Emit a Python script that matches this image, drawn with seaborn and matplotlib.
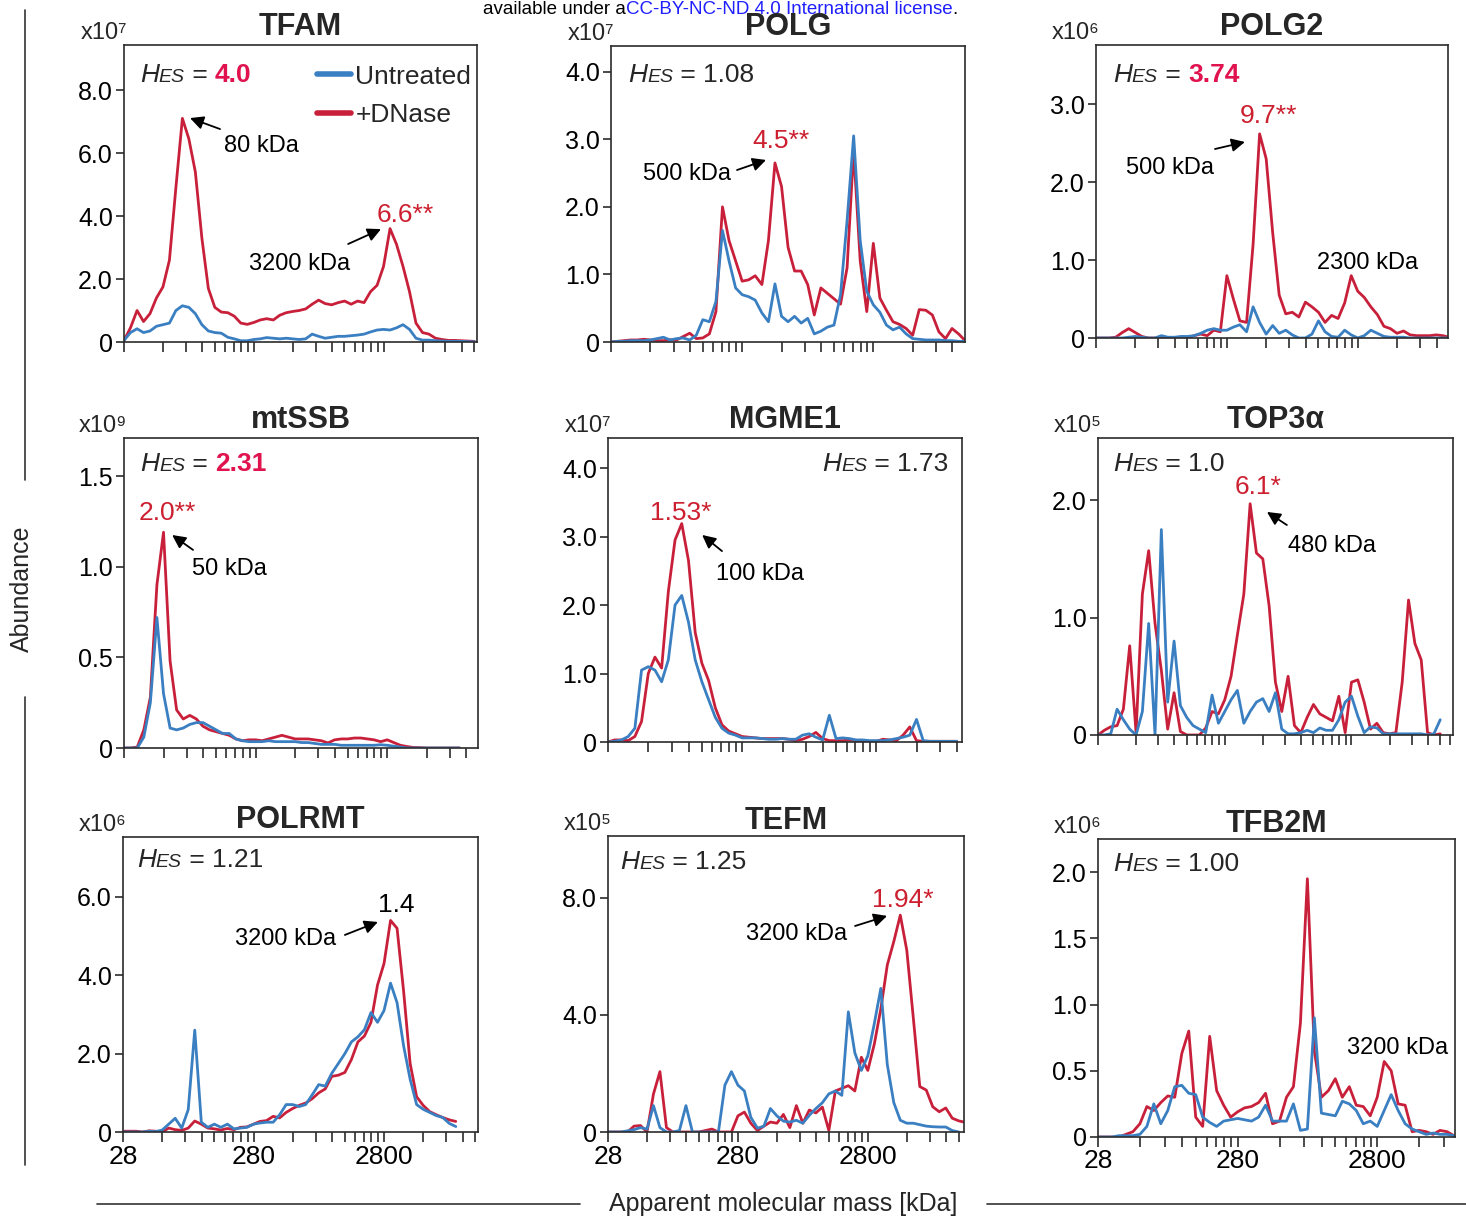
import numpy as np
import pandas as pd
import matplotlib
matplotlib.use("Agg")
import matplotlib.pyplot as plt
import seaborn as sns
from matplotlib.lines import Line2D
from matplotlib.ticker import FixedLocator, NullFormatter

nan = np.nan

# apparent molecular mass of the fractions [kDa]
mass_kda = [
    28, 31.4, 35.3, 39.6, 44.4, 49.8, 55.9, 62.7, 70.3, 78.9,
    88.5, 99.3, 111.5, 125.1, 140.3, 157.4, 176.7, 198.2, 222.4, 249.6,
    280, 314, 352, 396, 444, 498, 559, 627, 703, 789,
    885, 993, 1115, 1251, 1403, 1575, 1767, 1982, 2224, 2496,
    2800, 3142, 3525, 3955, 4438, 4979, 5587, 6269, 7034, 7892,
    8854, 9935, 11147, 12507, 14033, 15745,
]

# abundances, in units of each panel's x10^n factor
tfam_dnase = [
    0.05, 0.45, 1.0, 0.65, 0.9, 1.4, 1.75, 2.6, 4.9, 7.1,
    6.45, 5.4, 3.3, 1.7, 1.1, 0.95, 0.93, 0.82, 0.6, 0.56,
    0.62, 0.7, 0.74, 0.7, 0.85, 0.93, 0.97, 1.0, 1.05, 1.2,
    1.33, 1.22, 1.18, 1.25, 1.3, 1.2, 1.3, 1.25, 1.6, 1.8,
    2.4, 3.6, 3.1, 2.4, 1.6, 0.6, 0.3, 0.25, 0.12, 0.08,
    0.05, 0.05, 0.04, 0.03, 0.02, nan,
]
tfam_untreated = [
    0.05, 0.3, 0.42, 0.3, 0.35, 0.5, 0.55, 0.6, 1.0, 1.15,
    1.1, 0.9, 0.55, 0.35, 0.3, 0.28, 0.15, 0.1, 0.04, 0.04,
    0.08, 0.1, 0.14, 0.12, 0.1, 0.12, 0.1, 0.08, 0.1, 0.25,
    0.18, 0.12, 0.15, 0.18, 0.18, 0.2, 0.22, 0.25, 0.32, 0.38,
    0.4, 0.38, 0.45, 0.55, 0.4, 0.12, 0.06, 0.06, 0.04, 0.03,
    0.02, 0.02, 0.02, 0.01, 0.01, nan,
]

polg_dnase = [
    0.0, 0.01, 0.02, 0.03, 0.03, 0.04, 0.03, 0.02, 0.02, 0.03,
    0.03, 0.08, 0.13, 0.05, 0.06, 0.12, 0.45, 2.0, 1.5, 1.2,
    0.9, 0.92, 0.98, 0.85, 1.5, 2.65, 2.3, 1.4, 1.05, 1.05,
    0.85, 0.4, 0.8, 0.72, 0.64, 0.56, 1.1, 2.84, 1.2, 0.45,
    1.46, 0.65, 0.47, 0.3, 0.26, 0.2, 0.1, 0.48, 0.47, 0.4,
    0.15, 0.05, 0.2, 0.12, 0.02, nan,
]
polg_untreated = [
    0.0, 0.01, 0.01, 0.02, 0.02, 0.02, 0.03, 0.05, 0.07, 0.03,
    0.05, 0.06, 0.03, 0.1, 0.33, 0.3, 0.6, 1.65, 1.2, 0.8,
    0.7, 0.67, 0.62, 0.43, 0.3, 0.86, 0.38, 0.3, 0.38, 0.28,
    0.35, 0.12, 0.16, 0.22, 0.25, 0.7, 1.8, 3.05, 1.5, 0.75,
    0.55, 0.44, 0.25, 0.18, 0.22, 0.12, 0.05, 0.04, 0.03, 0.03,
    0.03, 0.02, 0.02, 0.01, 0.01, nan,
]

polg2_dnase = [
    0.0, 0.0, 0.0, 0.01, 0.07, 0.12, 0.07, 0.02, 0.0, 0.0,
    0.0, 0.0, 0.0, 0.0, 0.0, 0.03, 0.05, 0.03, 0.1, 0.08,
    0.8, 0.5, 0.22, 0.2, 1.2, 2.62, 2.3, 1.35, 0.55, 0.31,
    0.33, 0.27, 0.46, 0.4, 0.33, 0.2, 0.29, 0.25, 0.45, 0.8,
    0.6, 0.52, 0.4, 0.3, 0.15, 0.12, 0.06, 0.09, 0.04, 0.03,
    0.03, 0.03, 0.04, 0.03, 0.01, nan,
]
polg2_untreated = [
    0.0, 0.0, 0.0, 0.0, 0.0, 0.01, 0.02, 0.01, 0.0, 0.0,
    0.03, 0.01, 0.01, 0.02, 0.02, 0.03, 0.06, 0.1, 0.12, 0.1,
    0.1, 0.14, 0.17, 0.08, 0.4, 0.2, 0.05, 0.16, 0.06, 0.1,
    0.04, 0.0, 0.0, 0.05, 0.22, 0.08, 0.02, 0.01, 0.1, 0.04,
    0.0, 0.03, 0.1, 0.06, 0.02, 0.01, 0.01, 0.01, 0.0, 0.0,
    0.0, 0.0, 0.0, 0.0, 0.0, nan,
]

mtssb_dnase = [
    0.0, 0.0, 0.005, 0.1, 0.28, 0.9, 1.19, 0.48, 0.21, 0.16,
    0.18, 0.16, 0.12, 0.1, 0.09, 0.08, 0.07, 0.05, 0.04, 0.045,
    0.045, 0.04, 0.05, 0.06, 0.07, 0.06, 0.05, 0.05, 0.05, 0.045,
    0.04, 0.028, 0.045, 0.05, 0.05, 0.055, 0.055, 0.05, 0.045, 0.035,
    0.045, 0.03, 0.015, 0.008, 0.003, 0.002, 0.0, 0.0, 0.0, 0.0,
    0.0, 0.0, nan, nan, nan, nan,
]
mtssb_untreated = [
    0.0, 0.0, 0.0, 0.06, 0.25, 0.72, 0.3, 0.11, 0.1, 0.11,
    0.13, 0.14, 0.14, 0.12, 0.1, 0.08, 0.08, 0.05, 0.04, 0.035,
    0.035, 0.035, 0.04, 0.035, 0.035, 0.035, 0.035, 0.03, 0.03, 0.025,
    0.02, 0.02, 0.02, 0.015, 0.015, 0.015, 0.015, 0.015, 0.015, 0.018,
    0.015, 0.01, 0.005, 0.0, 0.0, 0.0, 0.0, 0.0, 0.0, 0.0,
    0.0, 0.0, nan, nan, nan, nan,
]

mgme1_dnase = [
    0.0, 0.03, 0.03, 0.02, 0.08, 0.3, 1.0, 1.24, 1.08, 2.2,
    2.95, 3.19, 2.65, 1.6, 1.15, 0.9, 0.5, 0.25, 0.16, 0.12,
    0.08, 0.07, 0.06, 0.05, 0.05, 0.05, 0.05, 0.04, 0.02, 0.04,
    0.08, 0.14, 0.05, 0.02, 0.02, 0.02, 0.03, 0.02, 0.02, 0.01,
    0.01, 0.04, 0.03, 0.02, 0.1, 0.22, 0.02, 0.01, 0.01, 0.01,
    0.01, 0.01, 0.01, nan, nan, nan,
]
mgme1_untreated = [
    0.0, 0.01, 0.03, 0.08, 0.2, 1.05, 1.1, 1.05, 0.88, 1.2,
    2.0, 2.14, 1.75, 1.2, 0.88, 0.62, 0.36, 0.2, 0.13, 0.1,
    0.06, 0.06, 0.06, 0.05, 0.04, 0.04, 0.05, 0.04, 0.04, 0.1,
    0.12, 0.07, 0.03, 0.39, 0.05, 0.06, 0.05, 0.03, 0.03, 0.02,
    0.02, 0.02, 0.03, 0.05, 0.07, 0.1, 0.33, 0.02, 0.01, 0.01,
    0.01, 0.01, 0.01, nan, nan, nan,
]

top3a_dnase = [
    0.0, 0.04, 0.07, 0.08, 0.22, 0.76, 0.02, 1.2, 1.57, 0.95,
    0.55, 0.05, 0.36, 0.03, 0.0, 0.0, 0.0, 0.06, 0.2, 0.18,
    0.3, 0.5, 0.85, 1.2, 1.97, 1.55, 1.5, 1.1, 0.45, 0.2,
    0.5, 0.08, 0.02, 0.15, 0.26, 0.18, 0.15, 0.12, 0.33, 0.02,
    0.45, 0.47, 0.28, 0.05, 0.1, 0.02, 0.01, 0.02, 0.45, 1.15,
    0.78, 0.64, 0.02, 0.0, 0.01, nan,
]
top3a_untreated = [
    0.0, 0.0, 0.01, 0.22, 0.13, 0.05, 0.0, 0.2, 0.95, 0.0,
    1.75, 0.28, 0.8, 0.25, 0.15, 0.08, 0.05, 0.02, 0.34, 0.1,
    0.2, 0.3, 0.38, 0.1, 0.2, 0.28, 0.31, 0.2, 0.36, 0.05,
    0.01, 0.01, 0.02, 0.04, 0.02, 0.06, 0.04, 0.04, 0.13, 0.28,
    0.33, 0.16, 0.02, 0.07, 0.06, 0.01, 0.01, 0.01, 0.01, 0.01,
    0.01, 0.01, 0.0, 0.01, 0.13, nan,
]

polrmt_dnase = [
    0.02, 0.02, 0.02, 0.0, 0.03, 0.02, 0.0, 0.1, 0.06, 0.04,
    0.1, 0.28, 0.2, 0.1, 0.08, 0.05, 0.09, 0.06, 0.12, 0.13,
    0.2, 0.27, 0.29, 0.4, 0.36, 0.5, 0.6, 0.68, 0.74, 0.85,
    1.0, 1.1, 1.42, 1.45, 1.52, 1.85, 2.3, 2.45, 2.8, 3.75,
    4.3, 5.4, 5.2, 3.6, 1.75, 0.9, 0.68, 0.52, 0.44, 0.37,
    0.31, 0.27, nan, nan, nan, nan,
]
polrmt_untreated = [
    0.0, 0.0, 0.0, 0.0, 0.02, 0.01, 0.05, 0.2, 0.35, 0.1,
    0.57, 2.6, 0.25, 0.12, 0.2, 0.12, 0.2, 0.08, 0.1, 0.12,
    0.2, 0.23, 0.25, 0.25, 0.44, 0.7, 0.7, 0.65, 0.7, 0.95,
    1.21, 1.17, 1.5, 1.75, 2.0, 2.3, 2.43, 2.61, 3.05, 2.8,
    3.1, 3.8, 3.3, 2.2, 1.35, 0.7, 0.58, 0.5, 0.42, 0.37,
    0.22, 0.14, nan, nan, nan, nan,
]

tefm_dnase = [
    0.0, 0.0, 0.0, 0.0, 0.2, 0.22, 0.0, 1.3, 2.06, 0.15,
    0.0, 0.0, 0.0, 0.0, 0.0, 0.05, 0.1, 0.0, 0.0, 0.0,
    0.55, 0.68, 0.3, 0.05, 0.2, 0.34, 0.3, 0.6, 0.15, 0.9,
    0.3, 0.75, 0.65, 0.85, 0.05, 1.4, 1.49, 1.58, 1.4, 2.55,
    2.1, 3.0, 4.2, 5.7, 6.5, 7.4, 6.2, 3.9, 1.55, 1.43,
    0.86, 0.69, 0.82, 0.47, 0.38, 0.33,
]
tefm_untreated = [
    0.0, 0.0, 0.0, 0.04, 0.08, 0.15, 0.1, 0.9, 0.15, 0.0,
    0.0, 0.05, 0.9, 0.0, 0.0, 0.0, 0.0, 0.0, 1.6, 2.06,
    1.6, 1.4, 0.5, 0.13, 0.2, 0.8, 0.55, 0.37, 0.34, 0.4,
    0.3, 0.57, 0.8, 1.0, 1.3, 1.4, 1.25, 4.1, 2.7, 2.1,
    2.6, 3.7, 4.9, 2.3, 1.0, 0.4, 0.3, 0.3, 0.25, 0.2,
    0.18, 0.17, 0.17, 0.05, 0.0, nan,
]

tfb2m_dnase = [
    0.0, 0.0, 0.0, 0.0, 0.02, 0.04, 0.1, 0.23, 0.2, 0.26,
    0.31, 0.3, 0.63, 0.8, 0.15, 0.08, 0.76, 0.35, 0.24, 0.15,
    0.19, 0.22, 0.23, 0.26, 0.33, 0.1, 0.12, 0.3, 0.38, 0.86,
    1.95, 0.65, 0.3, 0.35, 0.44, 0.3, 0.38, 0.24, 0.23, 0.16,
    0.3, 0.57, 0.5, 0.25, 0.24, 0.04, 0.05, 0.04, 0.02, 0.05,
    0.04, 0.01, nan, nan, nan, nan,
]
tfb2m_untreated = [
    0.0, 0.0, 0.0, 0.01, 0.01, 0.01, 0.02, 0.08, 0.25, 0.1,
    0.2, 0.38, 0.39, 0.33, 0.32, 0.15, 0.11, 0.08, 0.12, 0.13,
    0.14, 0.13, 0.12, 0.15, 0.24, 0.12, 0.12, 0.12, 0.25, 0.05,
    0.06, 0.9, 0.18, 0.17, 0.16, 0.27, 0.25, 0.2, 0.1, 0.12,
    0.08, 0.2, 0.32, 0.2, 0.1, 0.06, 0.04, 0.02, 0.03, 0.02,
    0.02, 0.01, nan, nan, nan, nan,
]

RED = "#c8203a"
BLUE = "#3a7fc1"
HES_RED = "#e0134f"
NOTE_RED = "#cc1f2f"

# rect = (left, top, right, bottom) in pixels; notes/arrows in axes fraction
panels = [
    dict(name="TFAM", scale="x10⁷", dnase=tfam_dnase, untreated=tfam_untreated,
         yticks=[0, 2, 4, 6, 8], ylabels=["0", "2.0", "4.0", "6.0", "8.0"],
         ymax=9.43, xmax=14700, rect=(124, 45, 477, 342), row=0, tpad=7,
         hes=("4.0", True), hes_pos=(0.045, 0.875),
         notes=[(0.283, 0.64, "80 kDa", "black", 17),
                (0.717, 0.404, "6.6**", NOTE_RED, 19),
                (0.354, 0.242, "3200 kDa", "black", 17)],
         arrows=[((0.272, 0.717), (0.187, 0.754)), ((0.635, 0.33), (0.728, 0.38))]),
    dict(name="POLG", scale="x10⁷", dnase=polg_dnase, untreated=polg_untreated,
         yticks=[0, 1, 2, 3, 4], ylabels=["0", "1.0", "2.0", "3.0", "4.0"],
         ymax=4.38, xmax=14000, rect=(611, 46, 965, 342), row=0, tpad=8,
         hes=("1.08", False), hes_pos=(0.048, 0.878),
         notes=[(0.398, 0.655, "4.5**", NOTE_RED, 19),
                (0.09, 0.547, "500 kDa", "black", 17)],
         arrows=[((0.356, 0.581), (0.438, 0.615))]),
    dict(name="POLG2", scale="x10⁶", dnase=polg2_dnase, untreated=polg2_untreated,
         yticks=[0, 1, 2, 3], ylabels=["0", "1.0", "2.0", "3.0"],
         ymax=3.76, xmax=13700, rect=(1096, 45, 1448, 338), row=0, tpad=7,
         hes=("3.74", True), hes_pos=(0.048, 0.874),
         notes=[(0.409, 0.734, "9.7**", NOTE_RED, 19),
                (0.085, 0.56, "500 kDa", "black", 17),
                (0.628, 0.235, "2300 kDa", "black", 17)],
         arrows=[((0.338, 0.645), (0.423, 0.669))]),
    dict(name="mtSSB", scale="x10⁹", dnase=mtssb_dnase, untreated=mtssb_untreated,
         yticks=[0, 0.5, 1.0, 1.5], ylabels=["0", "0.5", "1.0", "1.5"],
         ymax=1.71, xmax=13700, rect=(124, 438, 478, 748), row=1, tpad=7,
         hes=("2.31", True), hes_pos=(0.045, 0.894),
         notes=[(0.04, 0.735, "2.0**", NOTE_RED, 19),
                (0.192, 0.558, "50 kDa", "black", 17)],
         arrows=[((0.195, 0.639), (0.136, 0.687))]),
    dict(name="MGME1", scale="x10⁷", dnase=mgme1_dnase, untreated=mgme1_untreated,
         yticks=[0, 1, 2, 3, 4], ylabels=["0", "1.0", "2.0", "3.0", "4.0"],
         ymax=4.44, xmax=12200, rect=(608, 438, 962, 742), row=1, tpad=7,
         hes=("1.73", False), hes_pos=(0.605, 0.891),
         notes=[(0.119, 0.73, "1.53*", NOTE_RED, 19),
                (0.305, 0.533, "100 kDa", "black", 17)],
         arrows=[((0.322, 0.628), (0.266, 0.681))]),
    dict(name="TOP3α", scale="x10⁵", dnase=top3a_dnase, untreated=top3a_untreated,
         yticks=[0, 1, 2], ylabels=["0", "1.0", "2.0"],
         ymax=2.53, xmax=17700, rect=(1098, 438, 1453, 735), row=1, tpad=7,
         hes=("1.0", False), hes_pos=(0.042, 0.889),
         notes=[(0.386, 0.811, "6.1*", NOTE_RED, 19),
                (0.535, 0.616, "480 kDa", "black", 17)],
         arrows=[((0.532, 0.707), (0.476, 0.751))]),
    dict(name="POLRMT", scale="x10⁶", dnase=polrmt_dnase, untreated=polrmt_untreated,
         yticks=[0, 2, 4, 6], ylabels=["0", "2.0", "4.0", "6.0"],
         ymax=7.53, xmax=14700, rect=(123, 837, 478, 1132), row=2, tpad=6.5,
         hes=("1.21", False), hes_pos=(0.039, 0.898),
         notes=[(0.718, 0.746, "1.4", "black", 19),
                (0.315, 0.634, "3200 kDa", "black", 17)],
         arrows=[((0.625, 0.668), (0.718, 0.712))]),
    dict(name="TEFM", scale="x10⁵", dnase=tefm_dnase, untreated=tefm_untreated,
         yticks=[0, 4, 8], ylabels=["0", "4.0", "8.0"],
         ymax=10.1, xmax=15400, rect=(608, 836, 964, 1132), row=2, tpad=4.5,
         hes=("1.25", False), hes_pos=(0.034, 0.889),
         notes=[(0.742, 0.76, "1.94*", NOTE_RED, 19),
                (0.388, 0.649, "3200 kDa", "black", 17)],
         arrows=[((0.694, 0.696), (0.784, 0.73))]),
    dict(name="TFB2M", scale="x10⁶", dnase=tfb2m_dnase, untreated=tfb2m_untreated,
         yticks=[0, 0.5, 1.0, 1.5, 2.0], ylabels=["0", "0.5", "1.0", "1.5", "2.0"],
         ymax=2.25, xmax=10100, rect=(1098, 839, 1455, 1137), row=2, tpad=3,
         hes=("1.00", False), hes_pos=(0.042, 0.893),
         notes=[(0.697, 0.279, "3200 kDa", "black", 17)],
         arrows=[]),
]

sns.set_theme(style="ticks", rc={
    "axes.edgecolor": "#2b2b2b", "axes.linewidth": 1.2,
    "xtick.color": "#2b2b2b", "ytick.color": "#2b2b2b",
    "xtick.labelcolor": "black", "ytick.labelcolor": "black",
})
plt.rcParams["font.family"] = ["Liberation Sans", "DejaVu Sans"]

FIG_W, FIG_H = 1466, 1219
fig = plt.figure(figsize=(FIG_W / 100, FIG_H / 100), dpi=100)

# background axes in pixel coordinates for the shared labels
bg = fig.add_axes([0, 0, 1, 1])
bg.set_xlim(0, FIG_W)
bg.set_ylim(FIG_H, 0)
bg.axis("off")


def chain_text(ax, x, y, pieces, coords):
    prev = None
    for s, kw in pieces:
        if prev is None:
            prev = ax.annotate(s, xy=(x, y), xycoords=coords, ha="left", va="baseline", **kw)
        else:
            prev = ax.annotate(s, xy=(1, y), xycoords=(prev, coords), ha="left", va="baseline", **kw)


palette = {"+DNase": RED, "Untreated": BLUE}
n = len(mass_kda)

for p in panels:
    l, t, r, b = p["rect"]
    ax = fig.add_axes([l / FIG_W, 1 - b / FIG_H, (r - l) / FIG_W, (b - t) / FIG_H])
    df = pd.DataFrame({
        "mass": mass_kda + mass_kda,
        "abundance": p["dnase"] + p["untreated"],
        "condition": ["+DNase"] * n + ["Untreated"] * n,
    }).dropna()
    sns.lineplot(data=df, x="mass", y="abundance", hue="condition",
                 hue_order=["+DNase", "Untreated"], palette=palette,
                 estimator=None, sort=False, linewidth=2.0, legend=False, ax=ax)
    ax.set_xscale("log")
    ax.set_xlim(28, p["xmax"])
    ax.set_ylim(0, p["ymax"])
    ax.set(xlabel="", ylabel="")

    major = [28, 280, 2800]
    minor = [base * m for base in major for m in range(2, 10) if base * m < p["xmax"]]
    ax.xaxis.set_major_locator(FixedLocator(major))
    ax.xaxis.set_minor_locator(FixedLocator(minor))
    ax.xaxis.set_minor_formatter(NullFormatter())
    if p["row"] == 2:
        ax.set_xticklabels(["28", "280", "2800"])
    else:
        ax.set_xticklabels([])
    ax.yaxis.set_major_locator(FixedLocator(p["yticks"]))
    ax.set_yticklabels(p["ylabels"])
    ax.tick_params(axis="x", which="both", direction="out", length=7, width=1.2,
                   labelsize=19, pad=2)
    ax.tick_params(axis="y", direction="out", length=6, width=1.2, labelsize=18, pad=2)

    ax.set_title(p["name"], fontsize=22, fontweight="bold", pad=p["tpad"])
    ax.annotate(p["scale"], xy=(0, 1), xycoords="axes fraction", xytext=(2.5, 4.5),
                textcoords="offset points", ha="right", va="baseline", fontsize=17)

    val, bold = p["hes"]
    val_kw = dict(fontsize=19, fontweight="bold", color=HES_RED) if bold else dict(fontsize=19)
    chain_text(ax, p["hes_pos"][0], p["hes_pos"][1],
               [("H", dict(fontsize=19, style="italic")),
                ("ES", dict(fontsize=14, style="italic")),
                (" = ", dict(fontsize=19)),
                (val, val_kw)], "axes fraction")

    for x, y, s, c, fs in p["notes"]:
        ax.text(x, y, s, transform=ax.transAxes, color=c, fontsize=fs,
                ha="left", va="baseline")
    for tail, head in p["arrows"]:
        ax.annotate("", xy=head, xytext=tail, xycoords="axes fraction",
                    arrowprops=dict(arrowstyle="-|>", color="black", lw=1.3,
                                    mutation_scale=20, shrinkA=0, shrinkB=0))

    if p["name"] == "TFAM":
        handles = [Line2D([], [], color=BLUE, lw=4), Line2D([], [], color=RED, lw=4)]
        ax.legend(handles, ["Untreated", "+DNase"], loc="upper right",
                  bbox_to_anchor=(1.01, 0.965), frameon=False,
                  fontsize=19, handlelength=1.3, handletextpad=0.15,
                  borderaxespad=0.15, borderpad=0.2, labelspacing=0.55)

# shared axis labels
bg.text(22, 589, "Abundance", rotation=90, ha="center", va="center", fontsize=18)
bg.plot([25, 25], [10, 480], color="#333333", lw=1.2)
bg.plot([25, 25], [697, 1165], color="#333333", lw=1.2)
bg.text(783, 1204, "Apparent molecular mass [kDa]", ha="center", va="center", fontsize=18)
bg.plot([97, 580], [1204, 1204], color="#333333", lw=1.2)
bg.plot([987, 1466], [1204, 1204], color="#333333", lw=1.2)

chain_text(bg, 483, 14,
           [("available under a", dict(fontsize=13.5, color="black")),
            ("CC-BY-NC-ND 4.0 International license", dict(fontsize=13.5, color="#1f1fff")),
            (".", dict(fontsize=13.5, color="black"))], "data")

fig.savefig("out.png", dpi=100)
